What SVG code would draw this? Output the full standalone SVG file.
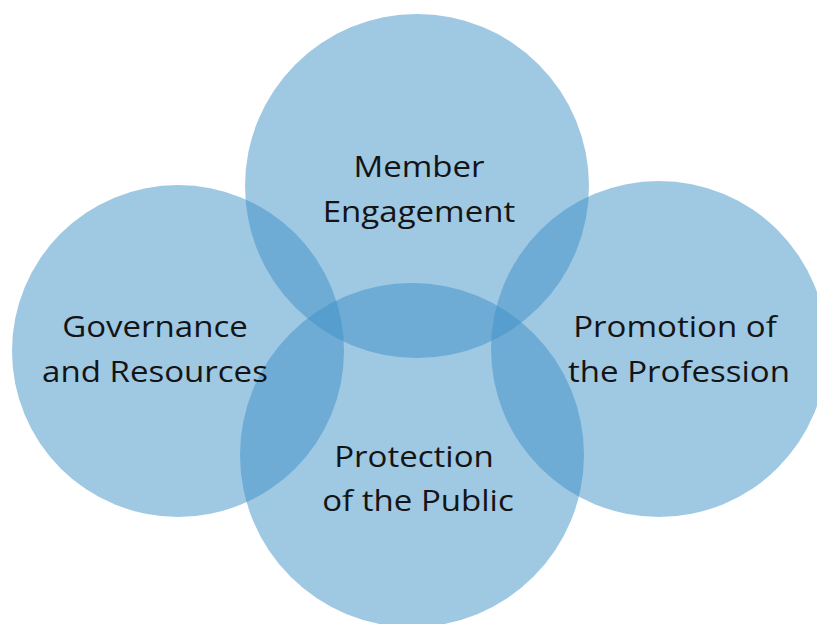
<svg xmlns="http://www.w3.org/2000/svg" width="817" height="624" viewBox="0 0 817 624">
<style>
.c{fill:#3B8FC6;fill-opacity:0.49}
.t{font-family:"Open Sans","Liberation Sans",sans-serif;font-size:29.5px;fill:#141414;text-anchor:middle}
</style>
<rect width="817" height="624" fill="#fff"/>
<g id="member-engagement">
<circle class="c" cx="417" cy="186" r="172"/>
</g>
<g id="governance">
<circle class="c" cx="178" cy="351" r="166"/>
</g>
<g id="promotion">
<circle class="c" cx="659" cy="349" r="168"/>
</g>
<g id="protection">
<circle class="c" cx="412" cy="455" r="172"/>
</g>
<g id="labels">
<text class="t" transform="translate(419,177) scale(1.12,1)">Member</text>
<text class="t" transform="translate(419,222) scale(1.12,1)">Engagement</text>
<text class="t" transform="translate(155,337) scale(1.12,1)">Governance</text>
<text class="t" transform="translate(155,382) scale(1.12,1)">and Resources</text>
<text class="t" transform="translate(675,337) scale(1.12,1)">Promotion of</text>
<text class="t" transform="translate(679,382) scale(1.12,1)">the Profession</text>
<text class="t" transform="translate(414,467) scale(1.12,1)">Protection</text>
<text class="t" transform="translate(418,511) scale(1.12,1)">of the Public</text>
</g>
<g id="connectors"/>
</svg>
